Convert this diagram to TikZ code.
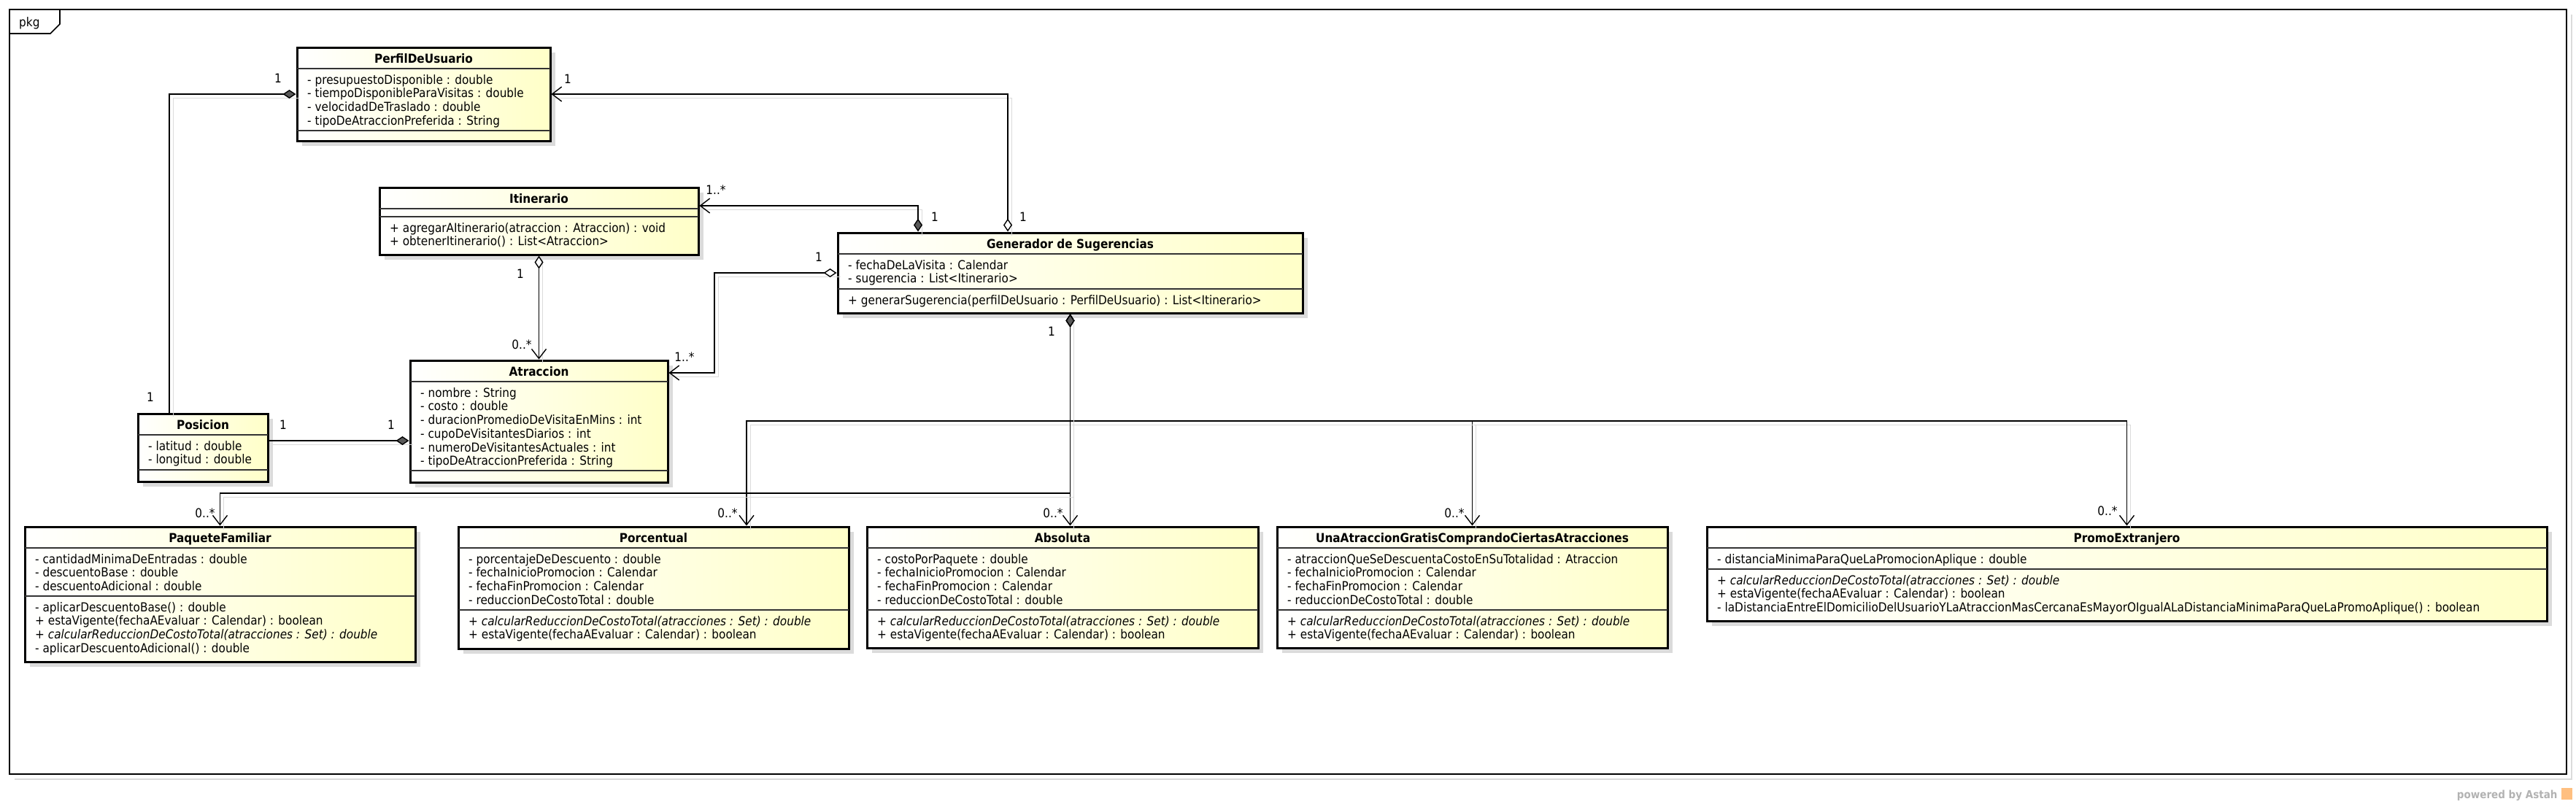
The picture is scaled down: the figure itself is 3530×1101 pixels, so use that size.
\documentclass[tikz,border=0pt]{standalone}
\usepackage{fontspec}
\setmainfont{DejaVu Sans}[FakeStretch=0.9]
\usepackage{xcolor}
\definecolor{umlYellow}{HTML}{FFFFC8}
\definecolor{umlShadow}{gray}{0.86}
\usepackage{tikz}
\usetikzlibrary{arrows.meta,fit,shadows}

\tikzset{
  classbox/.style={draw, line width=3pt, inner sep=0pt, left color=white, right color=umlYellow,
    drop shadow={shadow xshift=7pt, shadow yshift=-7pt, fill=umlShadow, opacity=1}},
  classtitle/.style={anchor=base, inner sep=0pt, font=\bfseries\fontsize{17}{18.7}\selectfont},
  members/.style={anchor=north west, align=left, inner sep=0pt, font=\fontsize{17}{18.7}\selectfont},
  compsep/.style={line width=1.2pt, black!80},
  mult/.style={inner sep=0pt, font=\fontsize{17}{18.7}\selectfont},
  link/.style={line width=1.4pt, preaction={draw=umlShadow, -, transform canvas={xshift=5pt, yshift=-5pt}}},
  owned/.style={link, -{Diamond[length=18pt, width=12pt, fill=black!65]}},
  comp/.style={link, {Diamond[length=18pt, width=12pt, fill=black!65]}-{Straight Barb[length=13pt, width=20pt]}},
  aggr/.style={link, {Diamond[length=18pt, width=12pt, fill=white]}-{Straight Barb[length=13pt, width=20pt]}},
}

% name, left, top, right, second separator, bottom, title, attributes, operations
\newcommand{\umlclass}[9]{%
  \node[classbox, fit={(#2,#3) (#4,#6)}] (#1) {};
  \node[classtitle] (#1Title) at ({(#2+#4)/2},#3+21) {#7};
  \draw[compsep] (#2,#3+29) -- (#4,#3+29);
  \draw[compsep] (#2,#5) -- (#4,#5);
  \node[members] (#1Attr) at (#2+14,#3+37) {\rule{0pt}{13pt}#8};
  \node[members] (#1Ops) at (#2+14,#5+8) {\rule{0pt}{13pt}#9};
}

\begin{document}
\begin{tikzpicture}[x=1pt,y=-1pt]
  \useasboundingbox (0,0) rectangle (3530,1101);
  % package frame
  \draw[umlShadow, line width=2pt] (20,1068) -| (3524,20);
  \draw[line width=1.6pt, fill=white] (13,13) rectangle (3517,1061);
  \draw[line width=1.6pt] (13,46) -- (69,46) -- (82,33) -- (82,13);
  \node[mult, anchor=base west] (pkg) at (26,36) {pkg};

  % classes
  \umlclass{perfil}{407}{65}{754}{179}{193}{PerfilDeUsuario}
    {- presupuestoDisponible : double\\- tiempoDisponibleParaVisitas : double\\- velocidadDeTraslado : double\\- tipoDeAtraccionPreferida : String}{}
  \umlclass{itinerario}{520}{257}{957}{297}{349}{Itinerario}
    {}{+ agregarAItinerario(atraccion : Atraccion) : void\\+ obtenerItinerario() : List<Atraccion>}
  \umlclass{generador}{1148}{319}{1785}{396}{429}{Generador de Sugerencias}
    {- fechaDeLaVisita : Calendar\\- sugerencia : List<Itinerario>}{+ generarSugerencia(perfilDeUsuario : PerfilDeUsuario) : List<Itinerario>}
  \umlclass{atraccion}{562}{494}{915}{645}{661}{Atraccion}
    {- nombre : String\\- costo : double\\- duracionPromedioDeVisitaEnMins : int\\- cupoDeVisitantesDiarios : int\\- numeroDeVisitantesActuales : int\\- tipoDeAtraccionPreferida : String}{}
  \umlclass{posicion}{189}{567}{367}{644}{660}{Posicion}
    {- latitud : double\\- longitud : double}{}
  \umlclass{paquete}{34}{722}{569}{817}{907}{PaqueteFamiliar}
    {- cantidadMinimaDeEntradas : double\\- descuentoBase : double\\- descuentoAdicional : double}
    {- aplicarDescuentoBase() : double\\+ estaVigente(fechaAEvaluar : Calendar) : boolean\\\textit{+ calcularReduccionDeCostoTotal(atracciones : Set) : double}\\- aplicarDescuentoAdicional() : double}
  \umlclass{porcentual}{628}{722}{1163}{836}{889}{Porcentual}
    {- porcentajeDeDescuento : double\\- fechaInicioPromocion : Calendar\\- fechaFinPromocion : Calendar\\- reduccionDeCostoTotal : double}
    {\textit{+ calcularReduccionDeCostoTotal(atracciones : Set) : double}\\+ estaVigente(fechaAEvaluar : Calendar) : boolean}
  \umlclass{absoluta}{1188}{722}{1724}{836}{888}{Absoluta}
    {- costoPorPaquete : double\\- fechaInicioPromocion : Calendar\\- fechaFinPromocion : Calendar\\- reduccionDeCostoTotal : double}
    {\textit{+ calcularReduccionDeCostoTotal(atracciones : Set) : double}\\+ estaVigente(fechaAEvaluar : Calendar) : boolean}
  \umlclass{unaAtraccion}{1750}{722}{2285}{836}{888}{UnaAtraccionGratisComprandoCiertasAtracciones}
    {- atraccionQueSeDescuentaCostoEnSuTotalidad : Atraccion\\- fechaInicioPromocion : Calendar\\- fechaFinPromocion : Calendar\\- reduccionDeCostoTotal : double}
    {\textit{+ calcularReduccionDeCostoTotal(atracciones : Set) : double}\\+ estaVigente(fechaAEvaluar : Calendar) : boolean}
  \umlclass{promo}{2339}{722}{3490}{780}{851}{PromoExtranjero}
    {- distanciaMinimaParaQueLaPromocionAplique : double}
    {\textit{+ calcularReduccionDeCostoTotal(atracciones : Set) : double}\\+ estaVigente(fechaAEvaluar : Calendar) : boolean\\- laDistanciaEntreElDomicilioDelUsuarioYLaAtraccionMasCercanaEsMayorOIgualALaDistanciaMinimaParaQueLaPromoAplique() : boolean}

  % associations
  \draw[owned] (posicion.north -| 232,0) |- (perfil.west);
  \draw[owned] (posicion.east |- 0,604) -- (atraccion.west |- 0,604);
  \draw[aggr] (generador.north -| 1381,0) |- (perfil.east);
  \draw[comp] (generador.north -| 1258,0) |- (itinerario.east |- 0,282);
  \draw[aggr] (generador.west |- 0,374) -| (979,511) -- (atraccion.east |- 0,511);
  \draw[aggr] (itinerario.south) -- (atraccion.north);
  \draw[comp] (generador.south) -- (generador.south |- absoluta.north);
  \draw[comp] (generador.south) |- (1023,577) -- (porcentual.north -| 1023,0);
  \draw[comp] (generador.south) |- (unaAtraccion.north |- 0,577) -- (unaAtraccion.north);
  \draw[comp] (generador.south) |- (promo.north |- 0,577) -- (promo.north);
  \draw[comp] (generador.south) |- (paquete.north |- 0,676) -- (paquete.north);

  % multiplicities
  \node[mult] (mPosPerfil) at (381,107) {1};
  \node[mult] (mPerfilPos) at (206,544) {1};
  \node[mult] (mAtrPos) at (388,582) {1};
  \node[mult] (mPosAtr) at (536,582) {1};
  \node[mult] (mGenPerfil) at (778,108) {1};
  \node[mult] (mPerfilGen) at (1402,297) {1};
  \node[mult] (mGenItin) at (981,260) {1..*};
  \node[mult] (mItinGen) at (1281,297) {1};
  \node[mult] (mAtrGen) at (1122,352) {1};
  \node[mult] (mGenAtr) at (938,489) {1..*};
  \node[mult] (mAtrItin) at (713,375) {1};
  \node[mult] (mItinAtr) at (715,472) {0..*};
  \node[mult] (mPromoGen) at (1441,454) {1};
  \node[mult] (mPaquete) at (281,703) {0..*};
  \node[mult] (mPorcentual) at (997,703) {0..*};
  \node[mult] (mAbsoluta) at (1443,703) {0..*};
  \node[mult] (mUnaAtr) at (1993,703) {0..*};
  \node[mult] (mPromo) at (2888,700) {0..*};

  \node[anchor=base east, text=black!30, font=\bfseries\fontsize{15}{15}\selectfont] (powered) at (3508,1094) {powered by Astah};
  \fill[orange!50] (3510,1080) rectangle (3525,1096);
\end{tikzpicture}
\end{document}
